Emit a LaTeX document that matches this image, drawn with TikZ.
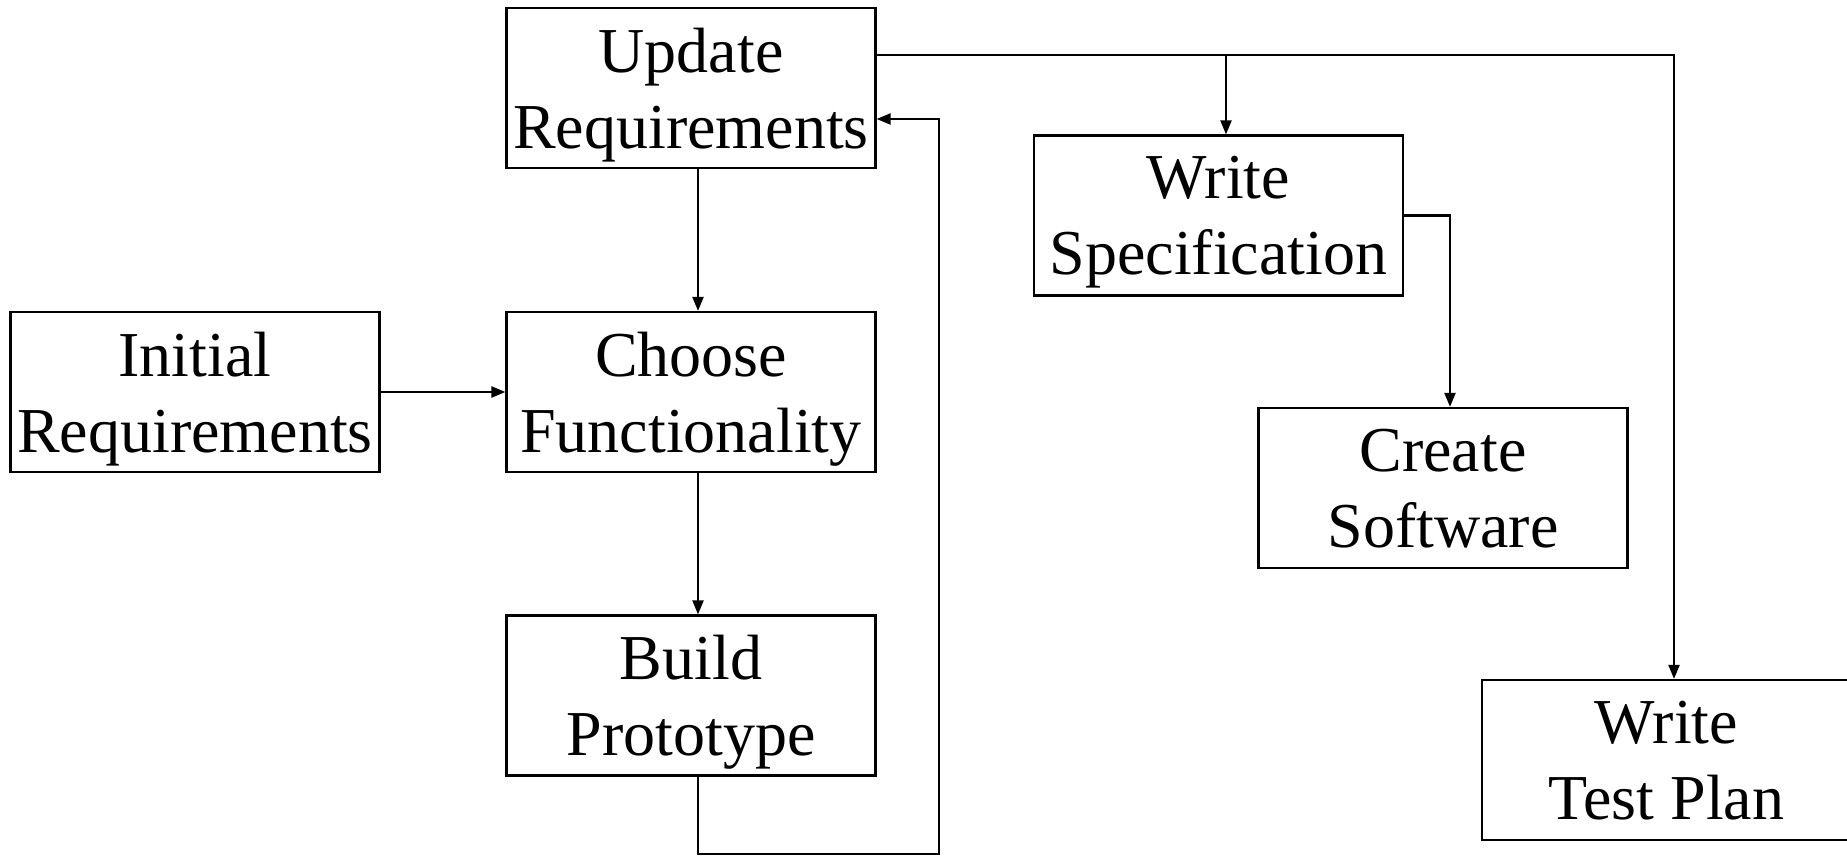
\documentclass[tikz,border=0pt]{standalone}
\usepackage{fontspec}
\setmainfont{Liberation Serif}
\usetikzlibrary{arrows.meta}

\begin{document}
\begin{tikzpicture}[x=0.5pt,y=-0.5pt,line width=1.1pt,
  box/.style={draw,rectangle,minimum width=184.5pt,minimum height=80pt,inner sep=0pt,
    align=center,text depth=0pt,font=\fontsize{32}{38}\selectfont},
  arr/.style={-{Triangle[length=7pt,width=5.5pt]}}]
  \useasboundingbox (0,0) rectangle (1847,856);

  \node[box] (update) at (691,88) {Update\\Requirements};
  \node[box] (choose) at (691,392) {Choose\\Functionality};
  \node[box] (initial) at (195,392) {Initial\\Requirements};
  \node[box] (build) at (691,695.5) {Build\\Prototype};
  \node[box] (spec) at (1218.5,215.5) {Write\\Specification};
  \node[box] (software) at (1443,488) {Create\\Software};
  \node[box] (testplan) at (1666.5,760) {Write\\Test Plan};

  \coordinate (top) at ([yshift=16.5pt]update.east);
  \coordinate (specin) at ([xshift=3.75pt]spec.north);
  \coordinate (loop) at (939,854);

  \draw[arr] (initial.east) -- (choose.west);
  \draw[arr] ([xshift=3.5pt]update.south) -- ([xshift=3.5pt]choose.north);
  \draw[arr] ([xshift=3.5pt]choose.south) -- ([xshift=3.5pt]build.north);
  \draw[arr] ([xshift=3.5pt]build.south) |- (loop) |- ([yshift=-15.5pt]update.east);
  \draw[arr] (top) -| ([xshift=3.75pt]testplan.north);
  \draw[arr] (specin |- top) -- (specin);
  \draw[arr] (spec.east) -| ([xshift=3.5pt]software.north);

\end{tikzpicture}
\end{document}
